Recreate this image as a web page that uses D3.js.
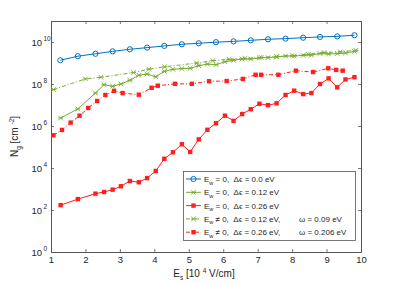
<!DOCTYPE html>
<html>
<head>
<meta charset="utf-8">
<script src="https://cdn.jsdelivr.net/npm/d3@7"></script>
<style>
  body { margin: 0; background: #fff; }
  svg text { font-family: "Liberation Sans", Arial, sans-serif; fill: #262626; white-space: pre; }
</style>
</head>
<body>
<svg id="chart" width="399" height="283"></svg>
<script>
// field values along x (10^4 V/cm)
var blueX = [1.27,1.78,2.29,2.79,3.29,3.79,4.29,4.80,5.29,5.79,6.30,6.80,7.30,7.81,8.32,8.81,9.31,9.81];
var blueY = [1.35e9,2.1e9,2.75e9,3.6e9,4.5e9,5.4e9,6.5e9,7.8e9,8.7e9,9.8e9,1.07e10,1.2e10,1.35e10,1.45e10,1.6e10,1.75e10,1.85e10,2.1e10];

var fineX = [1.28,1.78,2.29,2.54,2.79,3.03,3.29,3.55,3.79,4.04,4.29,4.54,4.80,5.04,5.29,5.54,5.79,6.05,6.30,6.55,6.80,7.05,7.30,7.55,7.81,8.06,8.32,8.56,8.81,9.06,9.31,9.55,9.81];
var greenY = [2.4e6,6.5e6,3.7e7,9.3e7,7.8e7,1.0e8,1.5e8,2.6e8,3.0e8,2.2e8,4.0e8,5.0e8,5.4e8,5.6e8,7.4e8,8.9e8,8.3e8,1.15e9,1.35e9,1.55e9,1.55e9,1.75e9,1.8e9,1.95e9,2.15e9,2.15e9,2.3e9,2.4e9,2.8e9,2.7e9,2.8e9,3.0e9,3.55e9];
var redY = [1.7e2,3.3e2,6.0e2,7.2e2,9.3e2,1.35e3,2.4e3,2.1e3,3.3e3,7.2e3,2.75e4,5.6e4,1.35e5,5.8e4,2.3e5,6.6e5,1.35e6,3.1e6,1.75e6,3.7e6,6.3e6,1.15e7,9.8e6,1.2e7,3.0e7,4.8e7,3.3e7,3.7e7,1.0e8,1.85e8,6.9e7,1.65e8,2.1e8];

var greenDashX = [1.07,2.0,2.45,3.39,3.84,4.30,5.23,5.70,6.17,6.63,7.10,7.55,8.0,8.47,8.93,9.40,9.85];
var greenDashY = [5.4e7,1.75e8,2.1e8,3.5e8,5.1e8,6.6e8,1.0e9,1.3e9,1.5e9,1.65e9,1.85e9,2.05e9,2.25e9,2.6e9,3.15e9,3.4e9,4.0e9];

var redDashX = [1.07,1.32,1.57,1.83,2.08,2.34,2.58,2.83,3.08,3.55,3.92,4.10,4.60,5.09,5.59,6.10,6.57,6.94,7.10,7.60,8.11,8.61,9.05,9.28,9.47];
var redDashY = [3.6e5,6.5e5,1.45e6,3.1e6,7.2e6,1.55e7,3.0e7,4.7e7,3.7e7,3.1e7,6.6e7,8.3e7,1.02e8,1.02e8,1.35e8,1.38e8,1.74e8,2.75e8,2.75e8,2.75e8,4.3e8,3.7e8,5.6e8,4.7e8,4.3e8];

var xTicks = [1,2,3,4,5,6,7,8,9,10];
var yTickExp = [0,2,4,6,8,10];
var legendLabels = [
  {sub: "w", rest: " = 0,  \u0394\u03f5 = 0.0 eV"},
  {sub: "w", rest: " = 0,  \u0394\u03f5 = 0.12 eV"},
  {sub: "w", rest: " = 0,  \u0394\u03f5 = 0.26 eV"},
  {sub: "w", rest: " \u2260 0,  \u0394\u03f5 = 0.12 eV,", omega: "\u03c9 = 0.09 eV"},
  {sub: "w", rest: " \u2260 0,  \u0394\u03f5 = 0.26 eV,", omega: "\u03c9 = 0.206 eV"}
];

var svg = d3.select("#chart");
var L = 51, R = 361, T = 21, B = 252;

var x = d3.scaleLinear().domain([1, 10]).range([L, R]);
var y = d3.scaleLog().domain([1, 1e11]).range([B, T]);

var BLUE = "#0072bd", GREEN = "#77ac30", RED = "#ff1f1f";
var axisCol = "#555";

// axes with inward ticks
var gx = svg.append("g").attr("transform", "translate(0," + B + ")")
  .call(d3.axisBottom(x).tickValues(xTicks).tickSizeInner(-3).tickSizeOuter(0).tickPadding(4));
var gxt = svg.append("g").attr("transform", "translate(0," + T + ")")
  .call(d3.axisTop(x).tickValues(xTicks).tickSizeInner(-3).tickSizeOuter(0).tickFormat(""));
var yVals = yTickExp.map(function(e) { return Math.pow(10, e); });
var gy = svg.append("g").attr("transform", "translate(" + L + ",0)")
  .call(d3.axisLeft(y).tickValues(yVals).tickSizeInner(-3).tickSizeOuter(0).tickFormat(""));
var gyr = svg.append("g").attr("transform", "translate(" + R + ",0)")
  .call(d3.axisRight(y).tickValues(yVals).tickSizeInner(-3).tickSizeOuter(0).tickFormat(""));

[gx, gxt, gy, gyr].forEach(function(g) {
  g.selectAll("path").attr("stroke", axisCol).attr("stroke-width", 1);
  g.selectAll("line").attr("stroke", axisCol).attr("stroke-width", 0.8);
});
gx.selectAll("text").attr("font-size", 9.5).attr("fill", "#262626")
  .attr("font-family", "Liberation Sans, Arial, sans-serif");

// y tick labels as 10^n
yTickExp.forEach(function(e) {
  svg.append("text").attr("x", 42).attr("y", y(Math.pow(10, e)) + 4)
    .attr("text-anchor", "end").attr("font-size", 9.5).text("10");
  svg.append("text").attr("x", 43.5).attr("y", y(Math.pow(10, e)) - 1)
    .attr("font-size", 6.5).text(e);
});

// axis labels
var xl = svg.append("text").attr("x", 204).attr("y", 277).attr("text-anchor", "middle").attr("font-size", 10);
xl.append("tspan").text("E");
xl.append("tspan").attr("font-size", 6.5).attr("dy", 3).text("s");
xl.append("tspan").attr("dy", -3).text(" [10 ");
xl.append("tspan").attr("font-size", 6.5).attr("dy", -4).text("4");
xl.append("tspan").attr("dy", 4).text(" V/cm]");

var yl = svg.append("text").attr("transform", "translate(18," + ((T + B) / 2) + ") rotate(-90)")
  .attr("text-anchor", "middle").attr("font-size", 10);
yl.append("tspan").text("N");
yl.append("tspan").attr("font-size", 6.5).attr("dy", 3).text("g");
yl.append("tspan").attr("dy", -3).text(" [cm ");
yl.append("tspan").attr("font-size", 6.5).attr("dy", -4).text("-2");
yl.append("tspan").attr("dy", 4).text("]");

function zip(xs, ys) { return xs.map(function(v, i) { return {x: v, y: ys[i]}; }); }

var line = d3.line().x(function(d) { return x(d.x); }).y(function(d) { return y(d.y); });

var series = [
  {data: zip(blueX, blueY), color: BLUE, dash: null, marker: "o"},
  {data: zip(fineX, greenY), color: GREEN, dash: null, marker: "x"},
  {data: zip(fineX, redY), color: RED, dash: null, marker: "s"},
  {data: zip(greenDashX, greenDashY), color: GREEN, dash: "4,2,1,2", marker: "x"},
  {data: zip(redDashX, redDashY), color: RED, dash: "4,2,1,2", marker: "s"}
];

function drawMarker(g, kind, color, px, py) {
  if (kind === "o") {
    g.append("circle").attr("cx", px).attr("cy", py).attr("r", 2.6)
      .attr("fill", "none").attr("stroke", color).attr("stroke-width", 1);
  } else if (kind === "x") {
    g.append("path").attr("d", "M" + (px - 2.3) + "," + (py - 2.3) + "L" + (px + 2.3) + "," + (py + 2.3) +
      "M" + (px - 2.3) + "," + (py + 2.3) + "L" + (px + 2.3) + "," + (py - 2.3) +
      "M" + (px - 2.6) + "," + py + "L" + (px + 2.6) + "," + py)
      .attr("stroke", color).attr("stroke-width", 0.9).attr("fill", "none");
  } else {
    g.append("rect").attr("x", px - 2.2).attr("y", py - 2.2).attr("width", 4.4).attr("height", 4.4)
      .attr("fill", color);
  }
}

var plot = svg.append("g");
series.forEach(function(s) {
  plot.append("path").attr("d", line(s.data)).attr("fill", "none")
    .attr("stroke", s.color).attr("stroke-width", 1)
    .attr("stroke-dasharray", s.dash);
  s.data.forEach(function(d) { drawMarker(plot, s.marker, s.color, x(d.x), y(d.y)); });
});

// legend
var lg = svg.append("g");
lg.append("rect").attr("x", 183.5).attr("y", 171.5).attr("width", 172).attr("height", 69)
  .attr("fill", "#fff").attr("stroke", "#555").attr("stroke-width", 0.8);
var rowY = [179, 192.3, 205.6, 218.9, 232.2];
series.forEach(function(s, i) {
  var ry = rowY[i];
  lg.append("line").attr("x1", 186).attr("x2", 201).attr("y1", ry).attr("y2", ry)
    .attr("stroke", s.color).attr("stroke-width", 1).attr("stroke-dasharray", s.dash);
  drawMarker(lg, s.marker, s.color, 193.5, ry);
  var lab = legendLabels[i];
  var t = lg.append("text").attr("x", 204).attr("y", ry + 3).attr("font-size", 8);
  t.append("tspan").text("E");
  t.append("tspan").attr("font-size", 5.5).attr("dy", 2.5).text(lab.sub);
  t.append("tspan").attr("dy", -2.5).text(lab.rest);
  if (lab.omega) {
    lg.append("text").attr("x", 299).attr("y", ry + 3).attr("font-size", 8).text(lab.omega);
  }
});
</script>
</body>
</html>
